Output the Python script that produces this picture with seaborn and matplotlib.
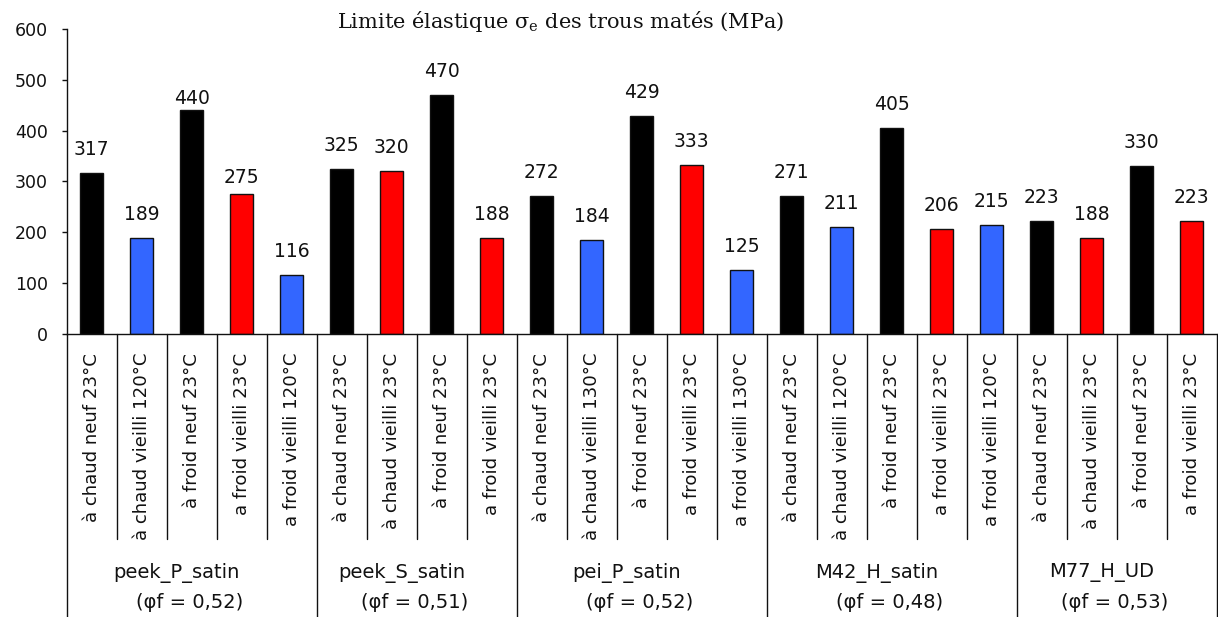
import matplotlib
matplotlib.use("Agg")
import matplotlib.pyplot as plt
import matplotlib.transforms as mtransforms
import seaborn as sns
import pandas as pd

# Yield strength of the matted holes, per laminate and condition
groups = ["peek_P_satin", "peek_S_satin", "pei_P_satin", "M42_H_satin", "M77_H_UD"]
fibre_fractions = ["(φf = 0,52)", "(φf = 0,51)", "(φf = 0,52)", "(φf = 0,48)", "(φf = 0,53)"]

conditions = [
    ["à chaud neuf 23°C", "à chaud vieilli 120°C", "à froid neuf 23°C",
     "a froid vieilli 23°C", "a froid vieilli 120°C"],
    ["à chaud neuf 23°C", "à chaud vieilli 23°C", "à froid neuf 23°C",
     "a froid vieilli 23°C"],
    ["à chaud neuf 23°C", "à chaud vieilli 130°C", "à froid neuf 23°C",
     "a froid vieilli 23°C", "a froid vieilli 130°C"],
    ["à chaud neuf 23°C", "à chaud vieilli 120°C", "à froid neuf 23°C",
     "a froid vieilli 23°C", "a froid vieilli 120°C"],
    ["à chaud neuf 23°C", "à chaud vieilli 23°C", "à froid neuf 23°C",
     "a froid vieilli 23°C"],
]

values = [
    [317, 189, 440, 275, 116],
    [325, 320, 470, 188],
    [272, 184, 429, 333, 125],
    [271, 211, 405, 206, 215],
    [223, 188, 330, 223],
]

y_ticks = [0, 100, 200, 300, 400, 500, 600]


def bar_colour(cond):
    if "neuf" in cond:
        return "#000000"
    if "vieilli 23" in cond:
        return "#FF0000"
    return "#3366FF"


rows = []
for g, conds, vals in zip(groups, conditions, values):
    for c, v in zip(conds, vals):
        rows.append({"group": g, "condition": c, "value": v})
df = pd.DataFrame(rows)
df["slot"] = [f"b{i:02d}" for i in range(len(df))]
palette = {s: bar_colour(c) for s, c in zip(df["slot"], df["condition"])}

# label lift above the bar top, in points (two labels were nudged down)
lift = [13.0] * len(df)
lift[2] = 4.3
lift[3] = 8.0

sns.set_style("white")
plt.rcParams["font.family"] = ["DejaVu Sans"]
plt.rcParams["mathtext.fontset"] = "dejavuserif"

W, H = 1218, 617
fig = plt.figure(figsize=(W / 100, H / 100), dpi=100)
x0, x1 = 66.7, 1216.7
ytop, ybot = 29, 334
ax = fig.add_axes([x0 / W, (H - ybot) / H, (x1 - x0) / W, (ybot - ytop) / H])

sns.barplot(data=df, x="slot", y="value", hue="slot", palette=palette,
            legend=False, width=0.47, edgecolor="#111111", linewidth=1.0,
            saturation=1.0, ax=ax)

n = len(df)
ax.set_xlim(-0.5, n - 0.5)
ax.set_ylim(0, 600)
ax.set_yticks(y_ticks)
ax.set_yticklabels([str(t) for t in y_ticks], fontsize=12.5, color="#111111")
ax.tick_params(axis="y", direction="out", length=3.6, width=1.0, pad=10,
               color="#111111", left=True)
ax.set_xticks([])
ax.set_xlabel("")
ax.set_ylabel("")
for side in ["top", "right"]:
    ax.spines[side].set_visible(False)
for side in ["left", "bottom"]:
    ax.spines[side].set_color("#111111")
    ax.spines[side].set_linewidth(1.0)

# value labels
for i, v in enumerate(df["value"]):
    ax.annotate(str(v), (i, v), xytext=(0, lift[i]), textcoords="offset points",
                ha="center", va="baseline", fontsize=13.5, color="#111111")

# category table below the axis
ah = ybot - ytop
blend = mtransforms.blended_transform_factory(ax.transData, ax.transAxes)
short_end = (ybot - 539) / ah
long_end = (ybot - H) / ah
ax.plot([-0.5, -0.5], [0, long_end], transform=blend, color="#111111",
        lw=1.0, clip_on=False)

label_top = (ybot - 353) / ah
for i, c in enumerate(df["condition"]):
    ax.text(i, label_top, c, transform=blend, rotation=90, ha="center",
            va="top", fontsize=13.1, color="#111111")

start = 0
for g, ff, conds in zip(groups, fibre_fractions, conditions):
    k = len(conds)
    for j in range(1, k):
        xb = start + j - 0.5
        ax.plot([xb, xb], [0, short_end], transform=blend, color="#111111",
                lw=1.0, clip_on=False)
    xe = start + k - 0.5
    ax.plot([xe, xe], [0, long_end], transform=blend, color="#111111",
            lw=1.0, clip_on=False)
    centre = start + (k - 1) / 2
    ax.text(centre - 0.3, (ybot - 573) / ah, g, transform=blend, ha="center",
            va="center", fontsize=14, color="#111111")
    ax.text(centre - 0.04, (ybot - 603) / ah, ff, transform=blend, ha="center",
            va="center", fontsize=14, color="#111111")
    start += k

fig.text(561 / W, 1 - 22 / H,
         r"Limite élastique $\mathrm{\sigma}_{\mathrm{e}}$ des trous matés (MPa)",
         ha="center", va="center", fontsize=15, family="DejaVu Serif",
         color="#111111")

fig.savefig("out.png", dpi=100, facecolor="white")
